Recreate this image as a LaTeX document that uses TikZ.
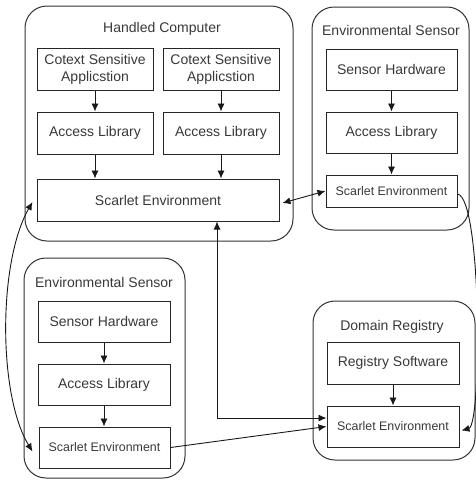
\documentclass[tikz,border=0pt]{standalone}
\usepackage{fontspec}
\setmainfont{Liberation Sans}
\usetikzlibrary{arrows.meta}
\begin{document}
\begin{tikzpicture}[x=1pt,y=-1pt,
  >={Latex[length=8pt,width=7pt]},
  every node/.style={font=\fontsize{14}{17}\selectfont, text=black!78},
  box/.style={draw=black!85, line width=1pt, inner sep=0pt, align=center},
  cont/.style={draw=black!80, line width=1pt, rounded corners=22pt, inner sep=0pt},
  ttl/.style={inner sep=0pt},
  small/.style={font=\fontsize{12.4}{15}\selectfont},
  conn/.style={draw=black!90, line width=0.9pt}]
\useasboundingbox (0,0) rectangle (476,480);
% containers
\node[cont, minimum width=268pt, minimum height=235pt] (hc) at (159,123.5) {};
\node[cont, minimum width=157pt, minimum height=223pt] (est) at (390.5,118.5) {};
\node[cont, minimum width=161pt, minimum height=220pt] (esb) at (104.5,368) {};
\node[cont, minimum width=162pt, minimum height=159pt] (dr) at (394,380.5) {};
% titles
\node[ttl] (hct) at (162,29) {Handled Computer};
\node[ttl] (estt) at (391,30) {Environmental Sensor};
\node[ttl] (esbt) at (104,282) {Environmental Sensor};
\node[ttl] (drt) at (392,327) {Domain Registry};
% handled computer
\node[box, minimum width=116pt, minimum height=42pt] (csa1) at (95,69) {Cotext Sensitive\\Applicstion};
\node[box, minimum width=116pt, minimum height=42pt] (csa2) at (221,69) {Cotext Sensitive\\Applicstion};
\node[box, minimum width=116pt, minimum height=42pt] (al1) at (95,133) {Access Library};
\node[box, minimum width=116pt, minimum height=42pt] (al2) at (221,133) {Access Library};
\node[box, minimum width=242pt, minimum height=42pt] (se0) at (158,200) {Scarlet Environment};
% env sensor top
\node[box, minimum width=131pt, minimum height=41pt] (sh1) at (391.5,69.5) {Sensor Hardware};
\node[box, minimum width=131pt, minimum height=41pt] (al3) at (391.5,132.5) {Access Library};
\node[box, small, minimum width=131pt, minimum height=32pt] (se1) at (391.5,191) {Scarlet Environment};
% env sensor bottom
\node[box, minimum width=132pt, minimum height=41pt] (sh2) at (104,321.5) {Sensor Hardware};
\node[box, minimum width=132pt, minimum height=41pt] (al4) at (104,384.5) {Access Library};
\node[box, small, minimum width=131pt, minimum height=41pt] (se2) at (104.5,447.5) {Scarlet Environment};
% domain registry
\node[box, minimum width=132pt, minimum height=42pt] (rs) at (393,363) {Registry Software};
\node[box, small, minimum width=132pt, minimum height=41pt] (se3) at (393,426.5) {Scarlet Environment};
% inner arrows
\draw[conn,->] (csa1) -- (al1);
\draw[conn,->] (csa2) -- (al2);
\draw[conn,->] (al1.south) -- (al1.south |- se0.north);
\draw[conn,->] (al2.south) -- (al2.south |- se0.north);
\draw[conn,->] (sh1) -- (al3);
\draw[conn,->] (al3) -- (se1);
\draw[conn,->] (sh2) -- (al4);
\draw[conn,->] (al4.south) -- (al4.south |- se2.north);
\draw[conn,->] (rs) -- (se3);
% outer connectors
\draw[conn,<->] ([xshift=3pt,yshift=-3pt]se0.east) -- (se1.west);
\draw[conn,<->] ([xshift=59pt]se0.south) |- ([yshift=8.5pt]se3.west);
\draw[conn,->] (se2.east) -- (se3.west);
\draw[conn,<->] ([xshift=-4pt,yshift=-2pt]se0.west) .. controls (-2,262) and (-2,395) .. ([xshift=-6pt,yshift=-4pt]se2.west);
\draw[conn,->] ([yshift=-3pt]se1.east) .. controls (482,198) and (482,425) .. ([xshift=2pt,yshift=-4pt]se3.east);
\end{tikzpicture}
\end{document}
